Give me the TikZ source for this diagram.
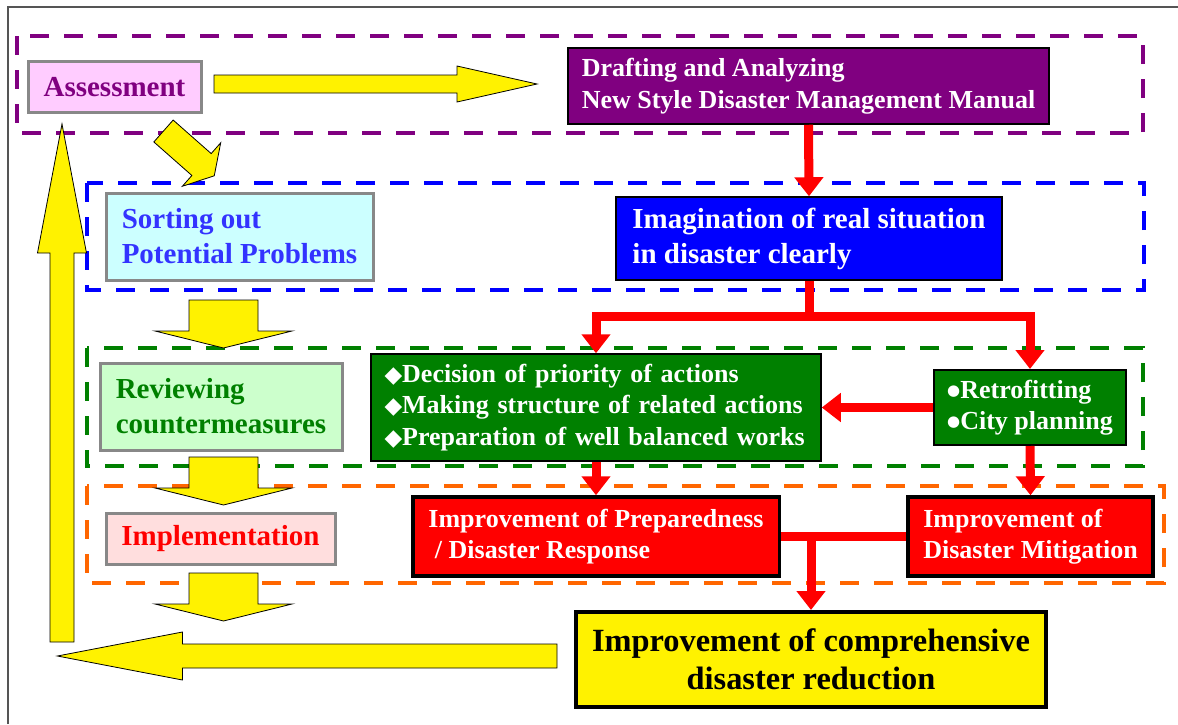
\documentclass[tikz,border=0pt]{standalone}
\usepackage{fontspec}
\setmainfont{Liberation Serif}
\newfontfamily\symbolfont{DejaVu Sans}
\usetikzlibrary{arrows.meta}

\definecolor{mauve}{HTML}{800080}
\definecolor{pinkfill}{HTML}{FFCCFF}
\definecolor{cyanfill}{HTML}{CCFFFF}
\definecolor{mintfill}{HTML}{CCFFCC}
\definecolor{rosefill}{HTML}{FFDEDE}
\definecolor{leaf}{HTML}{008000}
\definecolor{sortblue}{HTML}{3333FF}
\definecolor{boxgray}{HTML}{888888}
\definecolor{dashorange}{HTML}{FF6600}
\definecolor{framegray}{HTML}{555555}

\newcommand{\dmd}{{\symbolfont\fontsize{23}{23}\selectfont ◆}}
\newcommand{\bul}{\raisebox{3pt}{\symbolfont\fontsize{15}{15}\selectfont ●}}

\newcommand{\fatarrow}[6]{%
  \begin{scope}[shift={#1}, rotate=#2]
    \draw[yarrow] (0,-#4) -- ({#3-#6},-#4) -- ({#3-#6},-#5) -- (#3,0)
      -- ({#3-#6},#5) -- ({#3-#6},#4) -- (0,#4) -- cycle;
  \end{scope}}

\begin{document}
\begin{tikzpicture}[x=1pt, y=-1pt,
  groupbox/.style={line width=4pt, dash pattern=on 19pt off 15pt},
  lightbox/.style={draw=boxgray, line width=3pt, align=left, font=\fontsize{29}{35}\selectfont\bfseries},
  darkbox/.style={draw=black, line width=1.5pt, text=white, align=left, font=\fontsize{26}{31.5}\selectfont\bfseries},
  redline/.style={draw=red, line width=9pt},
  redarrow/.style={redline, -{Triangle[length=19pt,width=28pt]}},
  yarrow/.style={draw=black, line width=0.8pt, fill=yellow}]
\useasboundingbox (0,0) rectangle (1178,724);
\draw[framegray, line width=1.5pt] (8,724) -- (8,7) -- (1178,7);

% stages
\draw[groupbox, mauve] (17,36) rectangle (1143,133);
\draw[groupbox, blue] (87,183) rectangle (1144,290);
\draw[groupbox, leaf] (87,348) rectangle (1143,466);
\draw[groupbox, dashorange] (87,486) rectangle (1164,583);

% yellow arrows
\fatarrow{(214,84)}{0}{323}{9}{18}{80}
\fatarrow{(163.5,131)}{-41.4}{67.7}{14.6}{29}{17}
\foreach \y in {300, 457, 573} {%
  \fatarrow{(223.5,\y)}{-90}{48}{34.5}{68.5}{17}
}
\fatarrow{(557,656)}{180}{499.6}{12}{24}{125}
\fatarrow{(62,642)}{90}{518}{12}{24.5}{129}

\node[lightbox, fill=pinkfill, text=mauve, minimum width=173pt, minimum height=51pt] (assess) at (114.5,87) {Assessment};
\node[darkbox, fill=mauve, minimum width=481pt, minimum height=76pt] (draft) at (808.5,86) {Drafting and Analyzing\\New Style Disaster Management Manual};

\node[lightbox, fill=cyanfill, text=sortblue, minimum width=267pt, minimum height=87pt] (sort) at (239.5,236.5) {Sorting out\\Potential Problems};
\node[darkbox, fill=blue, font=\fontsize{29}{35}\selectfont\bfseries, minimum width=386pt, minimum height=83pt] (imag) at (809,238.5) {Imagination of real situation\\in disaster clearly};

\node[lightbox, fill=mintfill, text=leaf, minimum width=242pt, minimum height=87pt] (review) at (221,406.5) {Reviewing\\countermeasures};
\node[darkbox, fill=leaf, minimum width=450pt, minimum height=107pt, text width=423pt] (decide) at (596,407.5) {\dmd Decision of priority of actions\\\dmd Making structure of related actions\\\dmd Preparation of well balanced works};
\node[darkbox, fill=leaf, line width=2pt, minimum width=191.5pt, minimum height=75pt] (retro) at (1030,407.5) {\bul Retrofitting\\\bul City planning};

\node[lightbox, fill=rosefill, text=red, minimum width=229pt, minimum height=51pt] (implement) at (220.5,538.5) {Implementation};
\node[darkbox, fill=red, line width=3.5pt, minimum width=366.5pt, minimum height=79pt] (prep) at (596,536.5) {Improvement of Preparedness\\\hspace{6.5pt}/ Disaster Response};
\node[darkbox, fill=red, line width=3.5pt, minimum width=245pt, minimum height=79pt] (mitig) at (1030.5,536.5) {Improvement of\\Disaster Mitigation};

\node[darkbox, fill=yellow, text=black, line width=4pt, align=center, font=\fontsize{32.4}{38.3}\selectfont\bfseries, minimum width=470pt, minimum height=95pt] (comp) at (811,659.5) {Improvement of comprehensive\\disaster reduction};

% red connectors
\draw[redarrow] (draft.south) -- (imag.north);
\draw[redarrow] (imag.south) -- ++(0,36) -| (decide.north);
\draw[redarrow] (imag.south) -- ++(0,36) -| (retro.north);
\draw[redarrow] (retro.west) -- (decide.east);
\draw[redarrow] (decide.south) -- (prep.north);
\draw[redarrow] (retro.south) -- (mitig.north);
\draw[redline] (prep.east) -- (mitig.west);
\draw[redarrow] (prep.east -| comp.north) -- (comp.north);
\end{tikzpicture}
\end{document}
